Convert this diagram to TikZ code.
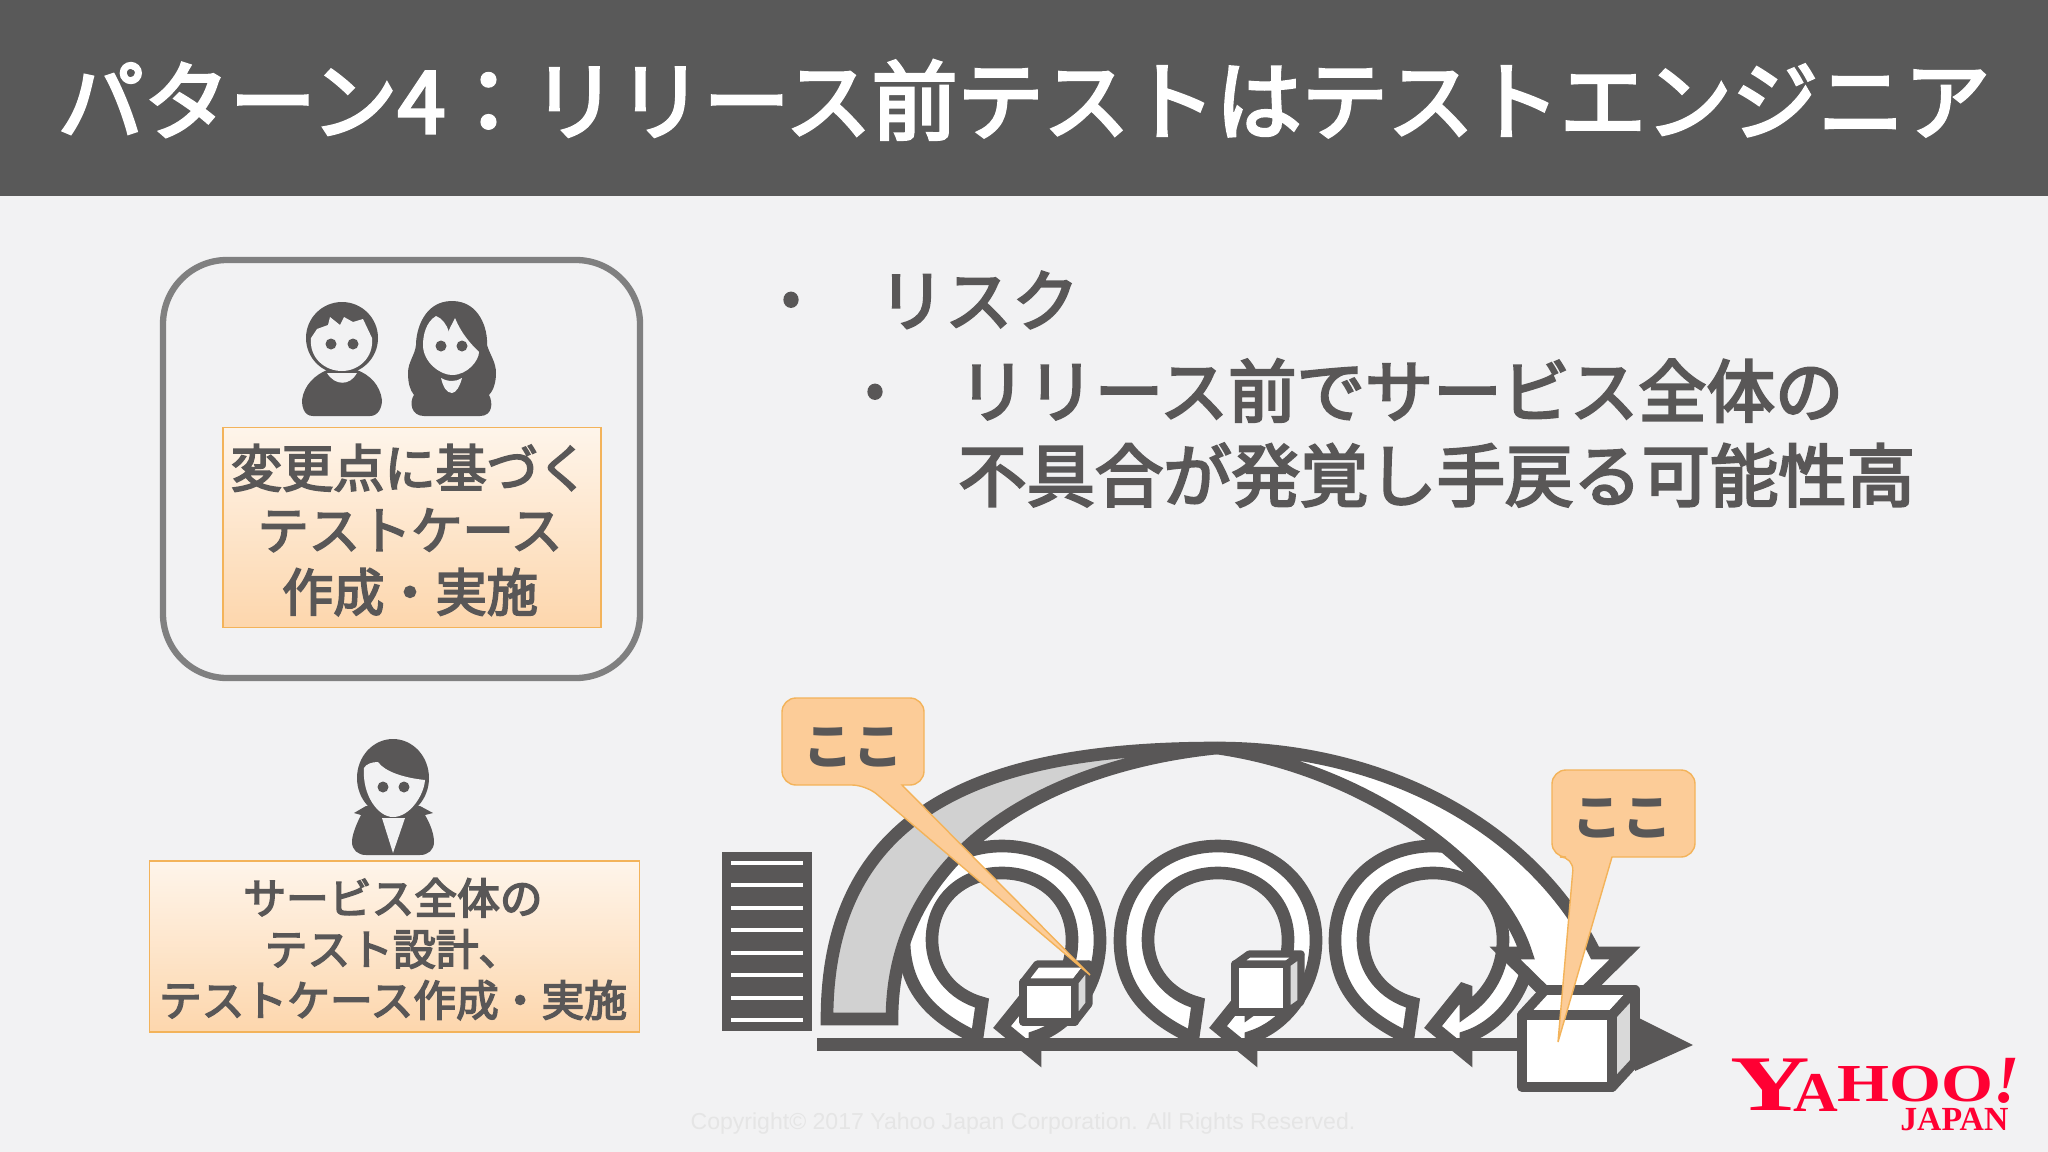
\documentclass[tikz,border=0pt]{standalone}
\usepackage{fontspec}
\setmainfont{Noto Sans CJK JP}
\newfontfamily\mediumcjk[FakeBold=3.5]{Noto Sans CJK JP}
\newfontfamily\latinsans{Liberation Sans}
\newfontfamily\logoserif{Liberation Serif}
\usetikzlibrary{arrows.meta,calc}
\definecolor{ink}{HTML}{595757}
\definecolor{slide}{HTML}{F2F2F3}
\definecolor{peach}{HTML}{FCCC98}
\definecolor{amber}{HTML}{F3B35A}
\definecolor{logored}{HTML}{FF0033}
\tikzset{
    >=Stealth,
    px/.style={x=0.025cm,y=-0.025cm},
    notebox/.style={draw=amber,line width=1pt,top color=peach!20!white,bottom color=peach!80!white,inner sep=0pt},
    boxtext/.style={text=ink,align=center,inner sep=0pt},
    bodytext/.style={text=ink,inner sep=0pt},
    band/.style={draw=ink,line width=9pt,line join=miter,miter limit=3},
    callout/.style={draw=amber,line width=1pt,fill=peach},
    person/.style={fill=ink,draw=none},
    skin/.style={fill=slide,draw=none},
    logo/.style={text=logored,anchor=base west,inner sep=0pt}
}
\newcommand{\fs}[2]{\fontsize{#1pt}{#2pt}\selectfont}
\newcommand{\ringarrow}[1]{
    \draw[band,fill=white] ({#1-25},1038) .. controls ({#1-75},1015) and ({#1-98},985) .. ({#1-98},940)
        .. controls ({#1-98},885) and ({#1-55},846) .. (#1,846)
        .. controls ({#1+55},846) and ({#1+98},885) .. ({#1+98},940)
        .. controls ({#1+98},985) and ({#1+70},1025) .. ({#1+33},1037)
        -- ({#1+33},1054) -- ({#1},1027) -- ({#1+33},986) -- ({#1+33},1010)
        .. controls ({#1+55},995) and ({#1+70},970) .. ({#1+70},940)
        .. controls ({#1+70},900) and ({#1+40},873) .. (#1,873)
        .. controls ({#1-40},873) and ({#1-70},900) .. ({#1-70},940)
        .. controls ({#1-70},970) and ({#1-50},995) .. ({#1-20},1003) -- cycle;
}
\newcommand{\parcel}[7]{
    \draw[draw=ink,line width=#7pt,line join=round,fill=white] (#1,#2) rectangle ({#1+#3},{#2+#4});
    \draw[draw=ink,line width=#7pt,line join=round,fill=white] (#1,#2) -- ({#1+#5},{#2-#6}) -- ({#1+#3+#5},{#2-#6}) -- ({#1+#3},#2) -- cycle;
    \draw[draw=ink,line width=#7pt,line join=round,fill=black!15] ({#1+#3},#2) -- ({#1+#3+#5},{#2-#6}) -- ({#1+#3+#5},{#2+#4-#6}) -- ({#1+#3},{#2+#4}) -- cycle;
}
\begin{document}
\begin{tikzpicture}[px]
    \fill[slide] (0,0) rectangle (2048,1152);
    \fill[black!65] (0,0) rectangle (2048,196);
    \node[text=white,font=\mediumcjk\fs{61.2}{70},inner sep=0pt] (title) at (1024,100) {パターン4：リリース前テストはテストエンジニア};

    \draw[draw=black!50,line width=4.5pt,rounded corners=1.6cm] (163,260) rectangle (640,678);
    \node[notebox,minimum width=9.45cm,minimum height=5cm] (change) at (412,527.5) {};
    \node[boxtext,font=\mediumcjk\fs{36.4}{44.1}] (changetext) at (410,530) {変更点に基づく\\テストケース\\作成・実施};
    \node[notebox,minimum width=12.25cm,minimum height=4.275cm] (whole) at (394.5,946.5) {};
    \node[boxtext,font=\mediumcjk\fs{30.4}{36.3}] (wholetext) at (393,949) {サービス全体の\\テスト設計、\\テストケース作成・実施};

    \fill[person] (342,338) circle (36);
    \fill[person] (313,416) .. controls (303,416) and (302,405) .. (302,400) .. controls (304,385) and (315,375) .. (327,370) -- (357,370) .. controls (370,375) and (380,385) .. (382,400) .. controls (382,408) and (378,416) .. (370,416) -- cycle;
    \fill[skin] (327,373) .. controls (335,386) and (350,386) .. (357,373) -- cycle;
    \fill[skin] (311,338) -- (317,329) -- (328,325) -- (330,317) -- (340,325) -- (344,317) -- (353,322) -- (363,319) -- (372,338) .. controls (374,358) and (358,371) .. (342,371) .. controls (325,371) and (309,358) .. (311,338) -- cycle;
    \fill[person] (331,344) circle (5.5) (353,344) circle (5.5);

    \fill[person] (452,301) .. controls (480,301) and (488,330) .. (487,345) .. controls (490,355) and (496,362) .. (496,373) .. controls (496,385) and (492,392) .. (489,395) .. controls (493,402) and (493,416) .. (480,416) -- (424,416) .. controls (411,416) and (409,402) .. (414,395) .. controls (410,390) and (408,383) .. (408,373) .. controls (408,362) and (415,355) .. (416,345) .. controls (416,330) and (424,301) .. (452,301) -- cycle;
    \fill[skin] (436,316) .. controls (426,322) and (423,335) .. (423,345) .. controls (423,362) and (440,375) .. (452,375) .. controls (468,375) and (479,360) .. (479,352) .. controls (472,345) and (462,335) .. (455,318) .. controls (452,325) and (448,330) .. (449,332) .. controls (447,325) and (442,318) .. (436,316) -- cycle;
    \fill[skin] (441,378) .. controls (448,382) and (456,382) .. (462,378) .. controls (460,386) and (456,393) .. (452,393) .. controls (446,393) and (443,386) .. (441,378) -- cycle;
    \fill[person] (441,346) circle (5.5) (462,346) circle (5.5);

    \fill[person] (393,778) ellipse (36 and 39);
    \fill[person] (354,813) -- (366,806) -- (420,806) -- (433,813) -- (425,815) .. controls (431,825) and (434,835) .. (434,842) .. controls (434,850) and (428,855) .. (420,855) -- (366,855) .. controls (358,855) and (352,850) .. (352,842) .. controls (352,835) and (356,825) .. (361,815) -- cycle;
    \fill[skin] (364,768) .. controls (362,795) and (378,817) .. (393,817) .. controls (410,817) and (424,795) .. (425,780) .. controls (405,778) and (385,772) .. (378,762) .. controls (372,762) and (366,764) .. (364,768) -- cycle;
    \fill[skin] (382,818) -- (405,818) -- (393,853) -- cycle;
    \fill[person] (383,787) circle (5.5) (404,787) circle (5.5);

    \node[bodytext,font=\mediumcjk\fs{38}{40}] (dota) at (791,304) {•};
    \node[bodytext,font=\mediumcjk\fs{47.6}{56},anchor=west] (risk) at (878,300) {リスク};
    \node[bodytext,font=\mediumcjk\fs{38}{40}] (dotb) at (875,396) {•};
    \node[bodytext,font=\mediumcjk\fs{48.6}{60},anchor=west,align=left] (detail) at (958,433) {リリース前でサービス全体の\\不具合が発覚し手戻る可能性高};

    \fill[ink] (722,852) rectangle (812,1031);
    \foreach \y in {863,885,908,930,953,975,998,1020} {
        \fill[white] (731,\y-1.7) rectangle (803,\y+1.7);
    }

    \ringarrow{1002}
    \ringarrow{1218}
    \ringarrow{1433}

    \fill[ink] (817,1038) rectangle (1640,1051);
    \fill[ink] (1635,1016) -- (1693,1045) -- (1635,1071) -- cycle;

    \draw[band,fill=black!18] (827,1019) .. controls (827,800) and (1000,748) .. (1217,748) .. controls (1050,765) and (892,850) .. (892,1019) -- cycle;
    \draw[band,fill=white] (1217,748) .. controls (1400,748) and (1540,840) .. (1595,953) -- (1625,953) -- (1565,1012) -- (1505,953) -- (1526,953) .. controls (1500,870) and (1370,770) .. (1217,748) -- cycle;

    \parcel{1023}{982}{52}{40}{14}{18}{5}
    \parcel{1235}{964}{52}{48}{14}{10}{5}
    \parcel{1522}{1015}{90}{72}{23}{25}{7}

    \draw[callout,rounded corners=0.35cm] (866,785) [sharp corners] -- (1090,975) -- (902,785) [rounded corners=0.35cm] -- (924,785) -- (924,698) -- (782,698) -- (782,785) -- cycle;
    \node[boxtext,font=\bfseries\fs{35.4}{40}] (herea) at (853,747) {ここ};
    \draw[callout,rounded corners=0.35cm] (1574,857) [sharp corners] -- (1558,1042) -- (1612,857) [rounded corners=0.35cm] -- (1695,857) -- (1695,770) -- (1552,770) -- (1552,857) -- cycle;
    \node[boxtext,font=\bfseries\fs{35.4}{40}] (hereb) at (1622,818) {ここ};

    \node[text=black!10,font=\latinsans\fs{16.4}{18},inner sep=0pt] (copy) at (1023,1124) {Copyright© 2017 Yahoo Japan Corporation. All Rights Reserved.};

    \node[logo,font=\logoserif\bfseries] (logomain) at (1730,1110) {\scalebox{1.4}[1]{\fs{56}{56}Y}\kern-12pt\raisebox{-1.4pt}{\scalebox{1.1}[1]{\fs{40}{40}A}}\raisebox{5.7pt}{\scalebox{1.25}[1]{\fs{38}{38}HOO}}\raisebox{5pt}{\fs{48}{48}\itshape !}};
    \node[logo,font=\logoserif\bfseries\fs{24}{24}] (logojp) at (1900,1130) {JAPAN};
\end{tikzpicture}
\end{document}
